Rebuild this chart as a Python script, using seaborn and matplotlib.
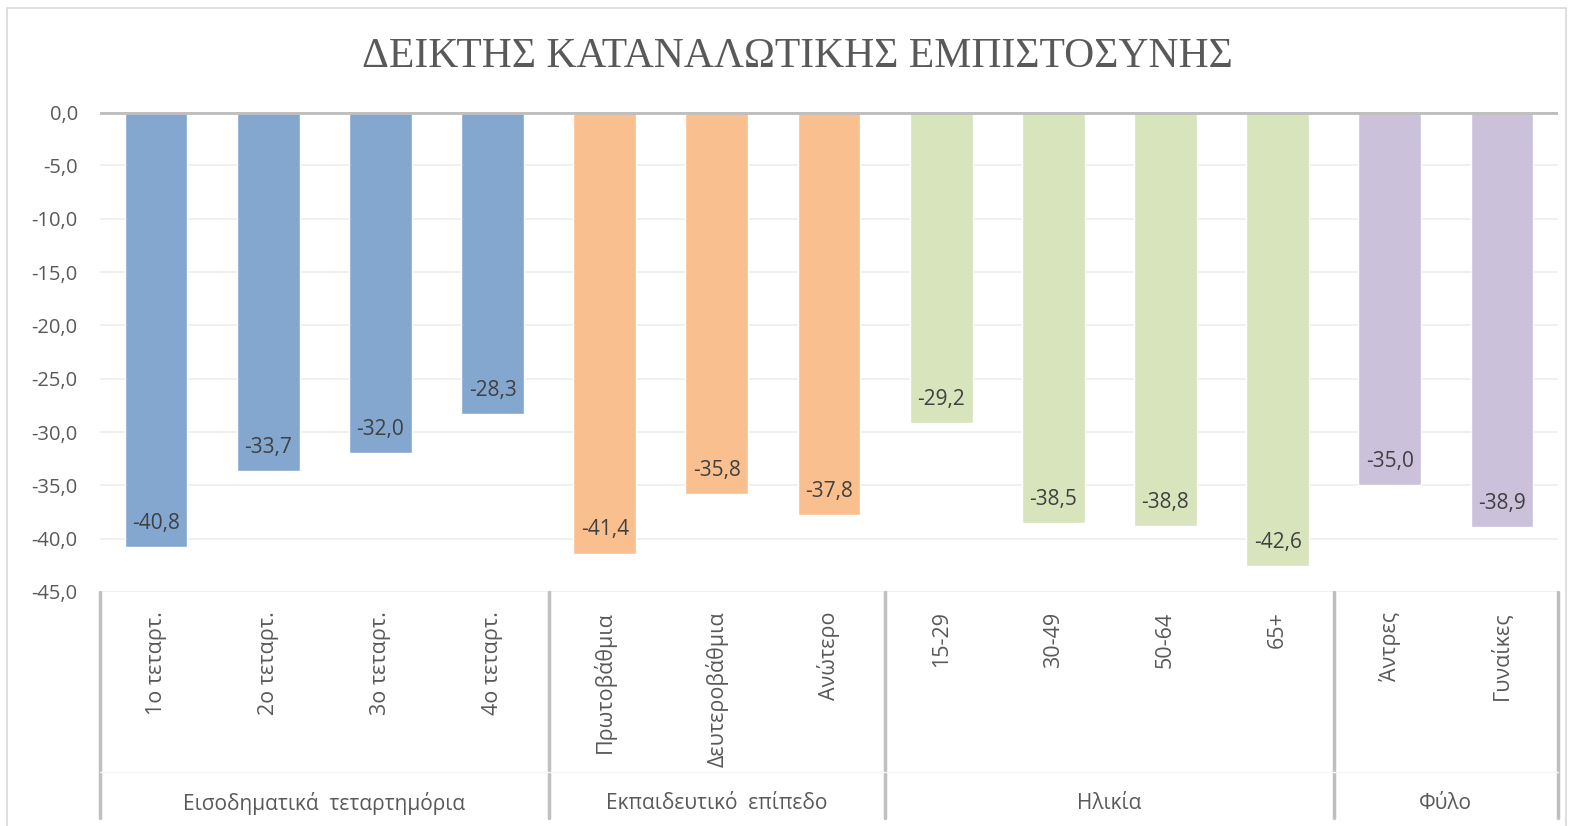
import matplotlib
matplotlib.use("Agg")
import matplotlib.pyplot as plt
import matplotlib.transforms as mtransforms
from matplotlib.lines import Line2D
from matplotlib.patches import Rectangle
import seaborn as sns
import pandas as pd

categories = ["1ο τεταρτ.", "2ο τεταρτ.", "3ο τεταρτ.", "4ο τεταρτ.",
              "Πρωτοβάθμια", "Δευτεροβάθμια", "Ανώτερο",
              "15-29", "30-49", "50-64", "65+",
              "Άντρες", "Γυναίκες"]
values = [-40.8, -33.7, -32.0, -28.3,
          -41.4, -35.8, -37.8,
          -29.2, -38.5, -38.8, -42.6,
          -35.0, -38.9]
groups = ["Εισοδηματικά  τεταρτημόρια"] * 4 + ["Εκπαιδευτικό  επίπεδο"] * 3 + \
         ["Ηλικία"] * 4 + ["Φύλο"] * 2
group_names = ["Εισοδηματικά  τεταρτημόρια", "Εκπαιδευτικό  επίπεδο", "Ηλικία", "Φύλο"]
group_colors = ["#84A7D0", "#F9BF8F", "#D8E4BC", "#CBC1DB"]
yticks = [0, -5, -10, -15, -20, -25, -30, -35, -40, -45]
title = "ΔΕΙΚΤΗΣ ΚΑΤΑΝΑΛΩΤΙΚΗΣ ΕΜΠΙΣΤΟΣΥΝΗΣ"

df = pd.DataFrame({"cat": categories, "val": values, "grp": groups})

sns.set_theme(style="white")
plt.rcParams["font.family"] = ["Open Sans", "DejaVu Sans"]

W, H = 1573, 826
fig = plt.figure(figsize=(W / 100, H / 100), dpi=100)
ax = fig.add_axes([100 / W, 1 - 592 / H, 1458 / W, 480 / H])

sns.barplot(data=df, x="cat", y="val", hue="grp", hue_order=group_names,
            palette=dict(zip(group_names, group_colors)), dodge=False,
            width=0.56, saturation=1, legend=False, ax=ax)

ax.set_ylim(-45, 0)
ax.set_xlim(-0.5, len(categories) - 0.5)
ax.set_yticks(yticks)
ax.set_yticklabels([f"{t:.1f}".replace(".", ",") for t in yticks],
                   fontsize=14.5, color="#595959")
ax.yaxis.grid(True, color="#EFEFEF", linewidth=1.3)
ax.set_axisbelow(True)
for s in ax.spines.values():
    s.set_visible(False)
ax.axhline(0, color="#BFBFBF", linewidth=3.5, zorder=5)
ax.tick_params(axis="y", length=0, pad=16)
ax.tick_params(axis="x", length=0, pad=14)
ax.set_xticks(range(len(categories)))
ax.set_xticklabels(categories, rotation=90, fontsize=15.5, color="#595959",
                   va="top", ha="center")
ax.set_xlabel("")
ax.set_ylabel("")

# data labels inside bar ends
for p in ax.patches:
    h = p.get_height()
    if h == 0:
        continue
    xc = p.get_x() + p.get_width() / 2
    ax.annotate(f"{h:.1f}".replace(".", ","), (xc, h), xytext=(0, 17),
                textcoords="offset points", ha="center", va="center",
                fontsize=15, color="#404040", zorder=6)

# group separators and labels
trans = mtransforms.blended_transform_factory(ax.transData, ax.transAxes)
bounds = [-0.5]
start = 0
for g in group_names:
    n = groups.count(g)
    ax.text(start + (n - 1) / 2, -0.44, g, transform=trans, ha="center",
            va="center", fontsize=15, color="#595959")
    start += n
    bounds.append(start - 0.5)
for b in bounds:
    ax.add_line(Line2D([b, b], [0, -0.47], transform=trans, color="#BFBFBF",
                       linewidth=2.5, clip_on=False))
ax.add_line(Line2D([-0.5, len(categories) - 0.5], [-0.375, -0.375], transform=trans,
                   color="#F6F6F6", linewidth=1.0, clip_on=False))

fig.text(797 / W, 1 - 57 / H, title, ha="center", va="center", fontsize=30,
         color="#595959", family=["Liberation Serif", "DejaVu Serif"])

fig.patches.append(Rectangle((7 / W, -0.01), (1566 - 7) / W, 1 - 8 / H + 0.01,
                             transform=fig.transFigure, fill=False,
                             edgecolor="#D9D9D9", linewidth=1.2))

fig.savefig("out.png", dpi=100)
